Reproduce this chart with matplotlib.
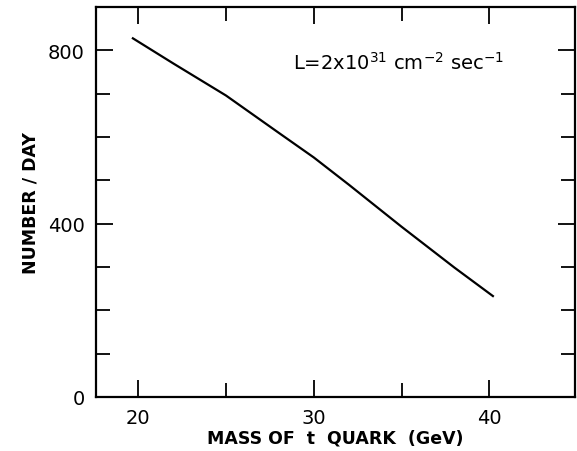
import matplotlib
matplotlib.use('Agg')
import matplotlib.pyplot as plt
from matplotlib.ticker import MultipleLocator

## data
mass_gev = [19.7, 22.0, 25.0, 28.0, 30.0, 32.0, 35.0, 38.0, 40.2]
number_per_day = [828, 770, 696, 610, 553, 490, 393, 299, 233]

x_major = [20, 30, 40]
y_major = [0, 400, 800]

fig = plt.figure(figsize=(5.77, 4.52), dpi=100)
ax = fig.add_axes([0.1664, 0.1195, 0.8309, 0.8625])

ax.plot(mass_gev, number_per_day, color='black', linewidth=1.6)

ax.set_xlim(17.6, 44.9)
ax.set_ylim(0, 900)
ax.set_xticks(x_major)
ax.set_yticks(y_major)
ax.xaxis.set_minor_locator(MultipleLocator(5))
ax.yaxis.set_minor_locator(MultipleLocator(100))

ax.tick_params(which='both', direction='in', top=True, right=True,
               width=1.3, color='black')
ax.tick_params(which='major', length=12, pad=8, labelsize=14)
ax.tick_params(which='minor', length=10)
for s in ax.spines.values():
    s.set_linewidth(1.6)

ax.set_xlabel('MASS OF  t  QUARK  (GeV)', fontsize=12.5, fontweight='bold',
              labelpad=1)
ax.set_ylabel('NUMBER / DAY', fontsize=12.5, fontweight='bold', labelpad=6)

ax.text(0.41, 0.86, r'L=2x10$^{31}$ cm$^{-2}$ sec$^{-1}$',
        transform=ax.transAxes, fontsize=14, ha='left', va='center')

fig.savefig('out.png', dpi=100)
